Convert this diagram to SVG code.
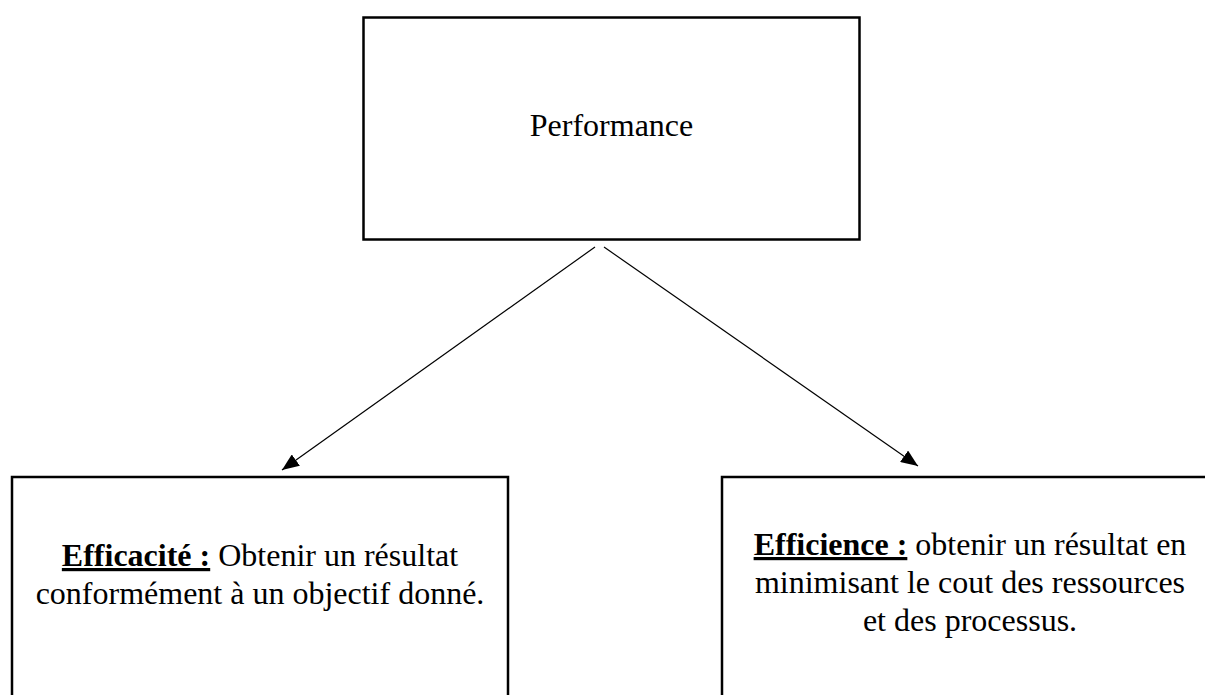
<svg xmlns="http://www.w3.org/2000/svg" width="1205" height="695" viewBox="0 0 1205 695">
<defs>
<style>
.box{fill:#fff;stroke:#000;stroke-width:2.5}
.t{font-family:"Liberation Serif","Times New Roman",serif;font-size:32px;fill:#000}
.b{font-weight:bold;text-decoration:underline}
.conn{stroke:#000;stroke-width:1.2;fill:none}
</style>
<marker id="ah" markerUnits="userSpaceOnUse" markerWidth="18" markerHeight="14" refX="17" refY="7" orient="auto">
<path d="M0,0 L17,7 L0,14 z" fill="#000"/>
</marker>
</defs>
<rect width="1205" height="695" fill="#fff"/>
<g id="performance">
<rect class="box" x="363.5" y="17.5" width="496" height="222"/>
<text class="t" x="611.5" y="136" text-anchor="middle">Performance</text>
</g>
<g id="efficacite">
<rect class="box" x="12" y="477" width="496" height="240"/>
<text class="t" x="260" y="566" text-anchor="middle"><tspan class="b">Efficacité :</tspan> Obtenir un résultat</text>
<text class="t" x="260" y="604" text-anchor="middle">conformément à un objectif donné.</text>
</g>
<g id="efficience">
<rect class="box" x="722" y="477" width="500" height="240"/>
<text class="t" x="970" y="555" text-anchor="middle"><tspan class="b">Efficience :</tspan> obtenir un résultat en</text>
<text class="t" x="970" y="593" text-anchor="middle">minimisant le cout des ressources</text>
<text class="t" x="970" y="631" text-anchor="middle">et des processus.</text>
</g>
<g id="connectors">
<line class="conn" x1="595" y1="247" x2="282" y2="470" marker-end="url(#ah)"/>
<line class="conn" x1="604" y1="247" x2="918" y2="466" marker-end="url(#ah)"/>
</g>
</svg>
